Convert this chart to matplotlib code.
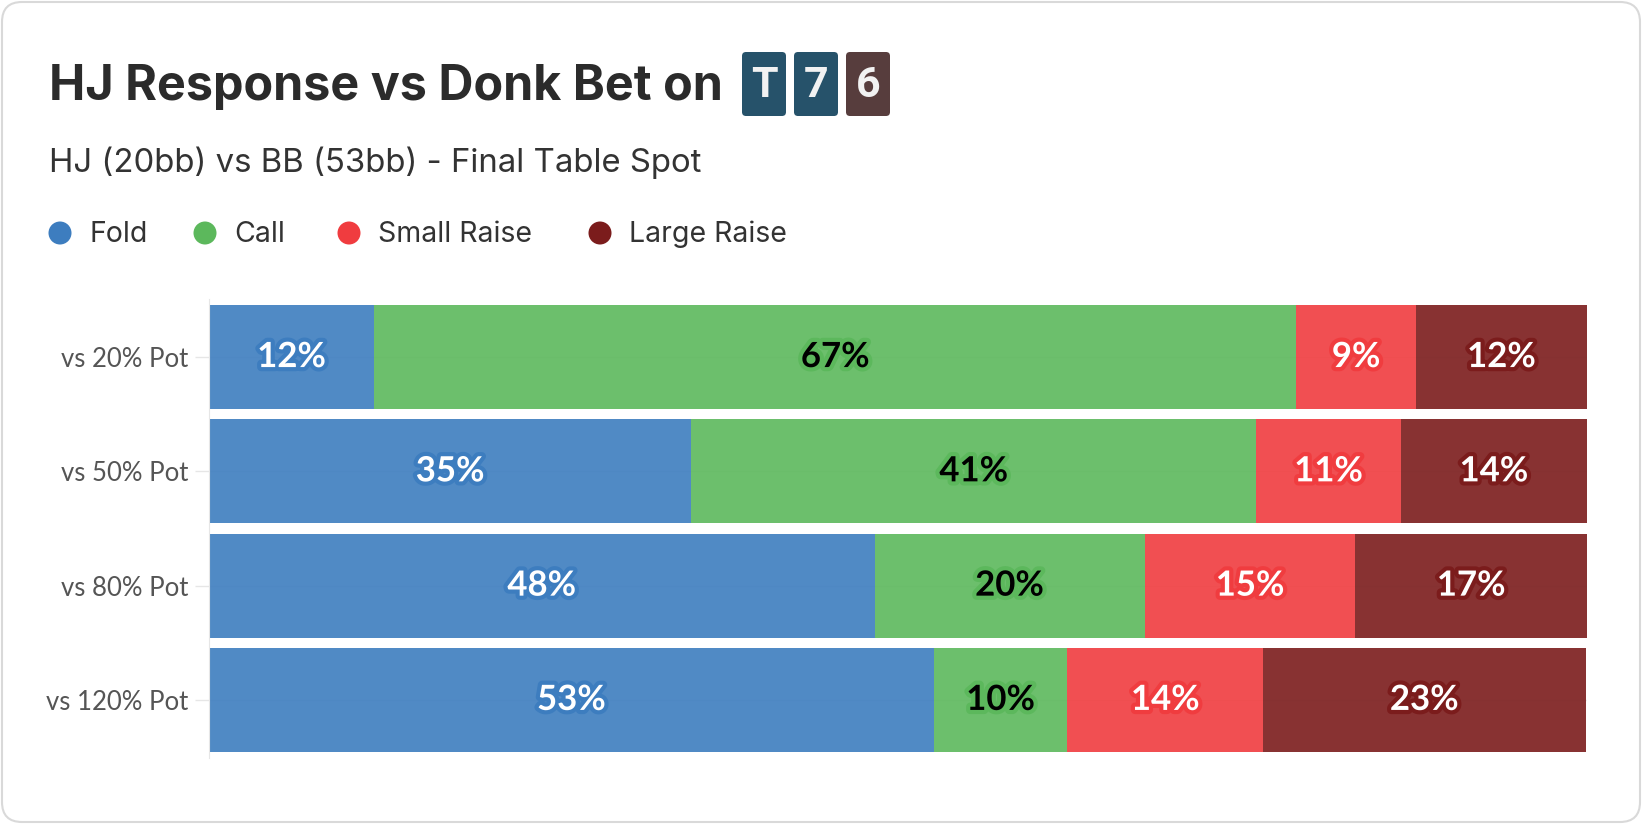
"""HJ response vs donk bet on T76 - stacked horizontal bars."""
import matplotlib

matplotlib.use("Agg")
import matplotlib.pyplot as plt
import matplotlib.patheffects as pe
from matplotlib.patches import FancyBboxPatch, Circle

# data (share of range, %)
spots = ["vs 20% Pot", "vs 50% Pot", "vs 80% Pot", "vs 120% Pot"]
actions = ["Fold", "Call", "Small Raise", "Large Raise"]
fold = [12.0, 35.0, 48.3, 52.6]
call = [66.9, 41.0, 19.6, 9.7]
small_raise = [8.7, 10.5, 15.3, 14.2]
large_raise = [12.4, 13.5, 16.8, 23.4]
fold_lbl = [12, 35, 48, 53]
call_lbl = [67, 41, 20, 10]
small_lbl = [9, 11, 15, 14]
large_lbl = [12, 14, 17, 23]
board = ["T", "7", "6"]

colors = ["#3d7dbf", "#5cb85c", "#f03c3f", "#7b1c1c"]
text_colors = ["white", "black", "white", "white"]
board_colors = ["#26526a", "#26526a", "#573d3d"]

W, H = 1642, 824
fig = plt.figure(figsize=(W / 100, H / 100), dpi=100)

# overlay in pixel coordinates for card, title, legend
bg = fig.add_axes([0, 0, 1, 1], zorder=0)
bg.set_xlim(0, W)
bg.set_ylim(H, 0)
bg.axis("off")
bg.add_patch(FancyBboxPatch((2, 2), W - 4, H - 4, boxstyle="round,pad=0,rounding_size=20",
                            facecolor="white", edgecolor="#d9d9d9", linewidth=1.5))

bg.text(49, 100, "HJ Response vs Donk Bet on", fontsize=34.9, fontweight="bold",
        family="Inter", color="#2b2b2b", va="baseline", ha="left")
for i, (card, c) in enumerate(zip(board, board_colors)):
    x0 = 742 + i * 52
    bg.add_patch(FancyBboxPatch((x0, 52), 44, 64, boxstyle="round,pad=0,rounding_size=4",
                                facecolor=c, edgecolor="none"))
    bg.text(x0 + 22, 85, card, fontsize=31, fontweight="bold", family="Roboto",
            color="#f2f2f2", ha="center", va="center")

bg.text(49, 172, "HJ (20bb) vs BB (53bb) - Final Table Spot", fontsize=23.7,
        family="Inter", color="#333333", va="baseline", ha="left")

legend_x = [60, 205, 349, 600]
for x, name, c in zip(legend_x, actions, colors):
    bg.add_patch(Circle((x, 233), 11.5, facecolor=c, edgecolor="none"))
    bg.text(x + 29, 242, name, fontsize=20.5, family="Inter", color="#333333",
            va="baseline", ha="left")

# bar chart
ax = fig.add_axes([209 / W, (H - 758) / H, (1587 - 209) / W, (758 - 299) / H], zorder=1)
ax.set_facecolor("none")
y = list(range(len(spots)))
series = [fold, call, small_raise, large_raise]
labels = [fold_lbl, call_lbl, small_lbl, large_lbl]
left = [0.0] * len(spots)
for vals, lbls, c, tc in zip(series, labels, colors, text_colors):
    ax.barh(y, vals, left=left, height=0.91, color=c, alpha=0.9, edgecolor="none", zorder=2)
    for yi, v, l, lb in zip(y, vals, left, lbls):
        ax.text(l + v / 2, yi, f"{lb}%", ha="center", va="center", fontsize=25,
                fontweight="bold", family="Lato", color=tc, zorder=3,
                path_effects=[pe.withStroke(linewidth=6, foreground=c)])
    left = [a + b for a, b in zip(left, vals)]

ax.set_xlim(0, 100)
ax.set_ylim(3.508, -0.508)
ax.set_yticks(y)
ax.set_yticklabels(spots, fontsize=18.5, family="Lato", color="#555555")
ax.set_xticks([])
ax.tick_params(axis="y", length=10, width=1, color="#e6e6e6", pad=5)
ax.grid(axis="y", color="#eeeeee", linewidth=1, zorder=0)
ax.set_axisbelow(True)
for side in ["top", "right", "bottom"]:
    ax.spines[side].set_visible(False)
ax.spines["left"].set_color("#e6e6e6")

fig.savefig("out.png", dpi=100)
